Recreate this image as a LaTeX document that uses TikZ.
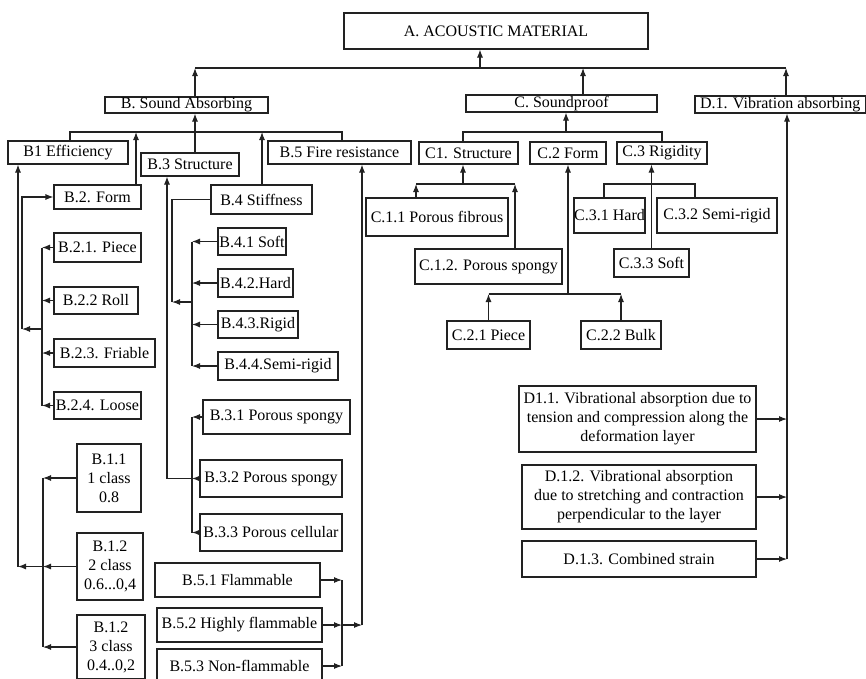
\documentclass[tikz,border=0pt]{standalone}
\usepackage{fontspec}
\setmainfont{Liberation Serif}
\usepackage{tikz}
\usetikzlibrary{arrows.meta}
\definecolor{lineg}{HTML}{222222}

\begin{document}
\begin{tikzpicture}[
  x=0.75pt, y=-0.75pt,
  box/.style={draw=lineg, line width=0.8pt, inner sep=0pt, align=center,
    font=\fontsize{12}{14.25}\selectfont},
  cell/.style n args={4}{at={({(#1+#3)/2},{(#2+#4)/2})},
    minimum width={(#3-#1)*0.75pt}, minimum height={(#4-#2)*0.75pt}},
  link/.style={draw=lineg, line width=0.8pt},
  arr/.style={link, -{Latex[length=6pt,width=4.5pt]}},
]
  \useasboundingbox (0,0) rectangle (866,678);
  \clip (0,0) rectangle (866,678);

  % top level
  \node[box, cell={344}{13}{648}{49}] (A) {A. ACOUSTIC MATERIAL};
  \node[box, cell={105}{97}{268}{113}] (B) {B. Sound Absorbing};
  \node[box, cell={466}{95}{657}{112}] (C) {C. Soundproof};
  \node[box, cell={695}{96}{865.5}{113}] (D) {D.1. Vibration absorbing};

  % B branch
  \node[box, cell={8}{141}{128}{164}] (B1) {B1 Efficiency};
  \node[box, cell={141}{153}{239}{176}] (B3) {B.3 Structure};
  \node[box, cell={268}{141}{411}{164}] (B5) {B.5 Fire resistance};
  \node[box, cell={54}{185}{141}{209}] (B2) {B.2. Form};
  \node[box, cell={211}{185}{312}{214}] (B4) {B.4 Stiffness};
  \node[box, cell={54}{233}{141}{262}] (B21) {B.2.1. Piece};
  \node[box, cell={54}{287}{138}{314}] (B22) {B.2.2 Roll};
  \node[box, cell={54}{339}{155}{367}] (B23) {B.2.3. Friable};
  \node[box, cell={54}{392}{141}{419}] (B24) {B.2.4. Loose};
  \node[box, cell={218}{228}{286}{255}] (B41) {B.4.1 Soft};
  \node[box, cell={218}{269}{293}{297}] (B42) {B.4.2.Hard};
  \node[box, cell={218}{311}{298}{338}] (B43) {B.4.3.Rigid};
  \node[box, cell={218}{352}{338}{380}] (B44) {B.4.4.Semi-rigid};
  \node[box, cell={203}{400}{350}{434}] (B31) {B.3.1 Porous spongy};
  \node[box, cell={200}{460}{342}{497}] (B32) {B.3.2 Porous spongy};
  \node[box, cell={200}{514}{342}{551}] (B33) {B.3.3 Porous cellular};
  \node[box, cell={77}{444}{141}{512}] (B11) {B.1.1\\1 class\\0.8};
  \node[box, cell={77}{533}{143}{600}] (B12) {B.1.2\\2 class\\0.6...0,4};
  \node[box, cell={77}{615}{145}{679}] (B13) {B.1.2\\3 class\\0.4..0,2};
  \node[box, cell={155}{563}{320}{597}] (B51) {B.5.1 Flammable};
  \node[box, cell={157}{608}{322}{642}] (B52) {B.5.2 Highly flammable};
  \node[box, cell={157}{649}{322}{683}] (B53) {B.5.3 Non-flammable};

  % C branch
  \node[box, cell={419}{142}{518}{164}] (C1) {C1. Structure};
  \node[box, cell={530}{142}{606}{164}] (C2) {C.2 Form};
  \node[box, cell={617}{142}{707}{164}] (C3) {C.3 Rigidity};
  \node[box, cell={366}{198}{508}{236}] (C11) {C.1.1 Porous fibrous};
  \node[box, cell={415}{249}{562}{284}] (C12) {C.1.2. Porous spongy};
  \node[box, cell={447}{321}{530}{349}] (C21) {C.2.1 Piece};
  \node[box, cell={581}{321}{661}{349}] (C22) {C.2.2 Bulk};
  \node[box, cell={574}{198}{645}{233}] (C31) {C.3.1 Hard};
  \node[box, cell={657}{198}{777}{233}] (C32) {C.3.2 Semi-rigid};
  \node[box, cell={614}{249}{689}{277}] (C33) {C.3.3 Soft};

  % D branch
  \node[box, cell={519}{386}{756}{452}] (D11)
    {D1.1. Vibrational absorption due to\\tension and compression along the\\deformation layer};
  \node[box, cell={522}{465}{756}{529}] (D12)
    {D.1.2. Vibrational absorption\\due to stretching and contraction\\perpendicular to the layer};
  \node[box, cell={522}{541}{756}{577}] (D13) {D.1.3. Combined strain};

  % junctions
  \coordinate (tA) at (480,68);
  \coordinate (tB) at (195,68);
  \coordinate (tC) at (583,68);
  \coordinate (tD) at (786,68);
  \coordinate (bB1) at (70,132);
  \coordinate (bB2) at (136,132);
  \coordinate (bB) at (195,132);
  \coordinate (bB4) at (262,132);
  \coordinate (bB5) at (342,132);
  \coordinate (bC1) at (463,132);
  \coordinate (bC) at (566,132);
  \coordinate (bC3) at (662,132);
  \coordinate (xB1) at (43,0);
  \coordinate (xB2) at (42,0);
  \coordinate (xB3) at (192,0);
  \coordinate (xB5) at (342,0);
  \coordinate (jB1) at (18,0);
  \coordinate (jB2) at (22,0);
  \coordinate (jB3) at (167,0);
  \coordinate (jB4) at (172,0);
  \coordinate (jB5) at (362,0);
  \coordinate (xD) at (787,0);
  \coordinate (mB2) at (42,329);
  \coordinate (mB4) at (192,302);
  \coordinate (jC1) at (463,184);
  \coordinate (aC11) at (416,184);
  \coordinate (aC12) at (515,184);
  \coordinate (jC2) at (568,294);
  \coordinate (aC31) at (604,184);
  \coordinate (aC32) at (695,184);

  % top level links
  \draw[arr] (tA) -- (A.south -| tA);
  \draw[link] (tB) -- (tD);
  \draw[arr] (B.north -| tB) -- (tB);
  \draw[arr] (C.north -| tC) -- (tC);
  \draw[arr] (D.north -| tD) -- (tD);

  % B links
  \draw[link] (B1.north -| bB1) -- (bB1) -- (bB5) -- (B5.north -| bB5);
  \draw[arr] (B3.north -| bB) -- (B.south -| bB);
  \draw[arr] (B2.north -| bB2) -- (bB2);
  \draw[arr] (B4.north -| bB4) -- (bB4);

  \draw[link] (B11.west -| xB1) -- (B13.west -| xB1);
  \foreach \n in {B11,B12,B13}
    \draw[arr] (\n.west) -- (\n.west -| xB1);
  \draw[arr] (B12.west -| xB1) -- (B12.west -| jB1);
  \draw[arr] (B12.west -| jB1) -- (B1.south -| jB1);

  \draw[link] (B21.west -| xB2) -- (B24.west -| xB2);
  \foreach \n in {B21,B22,B23,B24}
    \draw[arr] (\n.west) -- (\n.west -| xB2);
  \draw[arr] (mB2) -- (mB2 -| jB2);
  \draw[arr] (mB2 -| jB2) |- (B2.west);

  \draw[link] (B41.west -| xB3) -- (B44.west -| xB3);
  \foreach \n in {B41,B42,B43,B44}
    \draw[arr] (\n.west) -- (\n.west -| xB3);
  \draw[arr] (mB4) -- (mB4 -| jB4);
  \draw[link] (mB4 -| jB4) |- (B4.west);

  \draw[link] (B31.west -| xB3) -- (B33.west -| xB3);
  \foreach \n in {B31,B32,B33}
    \draw[arr] (\n.west) -- (\n.west -| xB3);
  \draw[arr] (B32.west -| xB3) -- (B32.west -| jB3) -- (B3.south -| jB3);

  \draw[link] (B51.east -| xB5) -- (B53.east -| xB5);
  \foreach \n in {B51,B52,B53}
    \draw[arr] (\n.east) -- (\n.east -| xB5);
  \draw[arr] (B52.east -| xB5) -- (B52.east -| jB5);
  \draw[arr] (B52.east -| jB5) -- (B5.south -| jB5);

  % C links
  \draw[link] (C1.north -| bC1) -- (bC1) -- (bC3) -- (C3.north -| bC3);
  \draw[arr] (bC) -- (C.south -| bC);

  \draw[arr] (jC1) -- (C1.south -| jC1);
  \draw[link] (aC11) -- (aC12);
  \draw[arr] (C11.north -| aC11) -- (aC11);
  \draw[arr] (C12.north -| aC12) -- (aC12);

  \draw[arr] (jC2) -- (C2.south -| jC2);
  \draw[link] (C21.north |- jC2) -- (C22.north |- jC2);
  \draw[arr] (C21.north) -- (C21.north |- jC2);
  \draw[arr] (C22.north) -- (C22.north |- jC2);

  \draw[arr] (C33.north) -- (C3.south -| C33.north);
  \draw[link] (C31.north -| aC31) -- (aC31) -- (aC32) -- (C32.north -| aC32);

  % D links
  \draw[arr] (D13.east -| xD) -- (D.south -| xD);
  \foreach \n in {D11,D12,D13}
    \draw[arr] (\n.east) -- (\n.east -| xD);
\end{tikzpicture}
\end{document}
